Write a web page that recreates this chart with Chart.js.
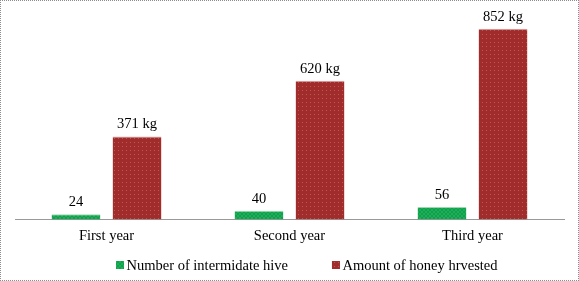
<!DOCTYPE html>
<html>
<head>
<meta charset="utf-8">
<script src="https://cdn.jsdelivr.net/npm/chart.js@4"></script>
<style>
    body { margin: 0; background: #fff; }
    #wrap { width: 577px; height: 279px; border: 1px dotted #8c8c8c; position: relative; }
</style>
</head>
<body>
<div id="wrap"><canvas id="honeyChart"></canvas></div>
<script>
const years = ['First year', 'Second year', 'Third year'];
const hiveCounts = [24, 40, 56];
const honeyKg = [371, 620, 852];
const hiveLabels = ['24', '40', '56'];
const honeyLabels = ['371 kg', '620 kg', '852 kg'];

const serif = '"Liberation Serif", "Times New Roman", serif';
const textFont = '14.5px ' + serif;

// small fill patterns like the dotted office bars
function makePattern(base, dot, checker) {
    const c = document.createElement('canvas');
    c.width = 4; c.height = 4;
    const g = c.getContext('2d');
    g.fillStyle = base;
    g.fillRect(0, 0, 4, 4);
    g.fillStyle = dot;
    if (checker) {
        g.fillRect(0, 0, 2, 2);
        g.fillRect(2, 2, 2, 2);
    } else {
        g.fillRect(1, 1, 1, 1);
    }
    return g.createPattern(c, 'repeat');
}

const greenFill = makePattern('#14b457', '#1a9a4e', true);
const redFill = makePattern('#a02c2c', '#c45555', false);

// value labels above each bar
const barLabels = {
    id: 'barLabels',
    afterDatasetsDraw(chart) {
        const ctx = chart.ctx;
        ctx.save();
        ctx.font = textFont;
        ctx.fillStyle = '#000';
        ctx.textAlign = 'center';
        ctx.textBaseline = 'alphabetic';
        chart.data.datasets.forEach((ds, i) => {
            const meta = chart.getDatasetMeta(i);
            meta.data.forEach((bar, j) => {
                ctx.fillText(ds.valueLabels[j], bar.x, bar.y - 8);
            });
        });
        ctx.restore();
    }
};

// legend under the axis, drawn by hand so the spacing matches
const bottomLegend = {
    id: 'bottomLegend',
    afterDraw(chart) {
        const ctx = chart.ctx;
        const area = chart.chartArea;
        let x = area.left + 101;
        const y = chart.height - 15;
        ctx.save();
        ctx.font = textFont;
        ctx.textBaseline = 'middle';
        ctx.textAlign = 'left';
        chart.data.datasets.forEach(ds => {
            ctx.fillStyle = ds.backgroundColor;
            ctx.fillRect(x, y - 4, 8, 8);
            ctx.fillStyle = '#000';
            ctx.fillText(ds.label, x + 10.5, y + 1);
            x += 10.5 + ctx.measureText(ds.label).width + 44;
        });
        ctx.restore();
    }
};

new Chart(document.getElementById('honeyChart'), {
    type: 'bar',
    data: {
        labels: years,
        datasets: [
            {
                label: 'Number of intermidate hive',
                data: hiveCounts,
                valueLabels: hiveLabels,
                backgroundColor: greenFill,
                borderColor: '#9fd8b0',
                borderWidth: { top: 1, left: 0, right: 0, bottom: 0 },
                categoryPercentage: 0.667,
                barPercentage: 0.8
            },
            {
                label: 'Amount of honey hrvested',
                data: honeyKg,
                valueLabels: honeyLabels,
                backgroundColor: redFill,
                borderColor: '#d9a0a0',
                borderWidth: { top: 1, left: 0, right: 0, bottom: 0 },
                categoryPercentage: 0.667,
                barPercentage: 0.8
            }
        ]
    },
    options: {
        responsive: true,
        maintainAspectRatio: false,
        animation: false,
        layout: { padding: { left: 14, right: 14, top: 17, bottom: 35 } },
        plugins: {
            legend: { display: false },
            tooltip: { enabled: false }
        },
        scales: {
            x: {
                grid: { display: false },
                border: { display: true, color: '#999', dash: [2, 2] },
                ticks: { color: '#000', font: { family: serif, size: 14.5 }, padding: 0 }
            },
            y: {
                display: false,
                min: 0,
                max: 900
            }
        }
    },
    plugins: [barLabels, bottomLegend]
});
</script>
</body>
</html>
